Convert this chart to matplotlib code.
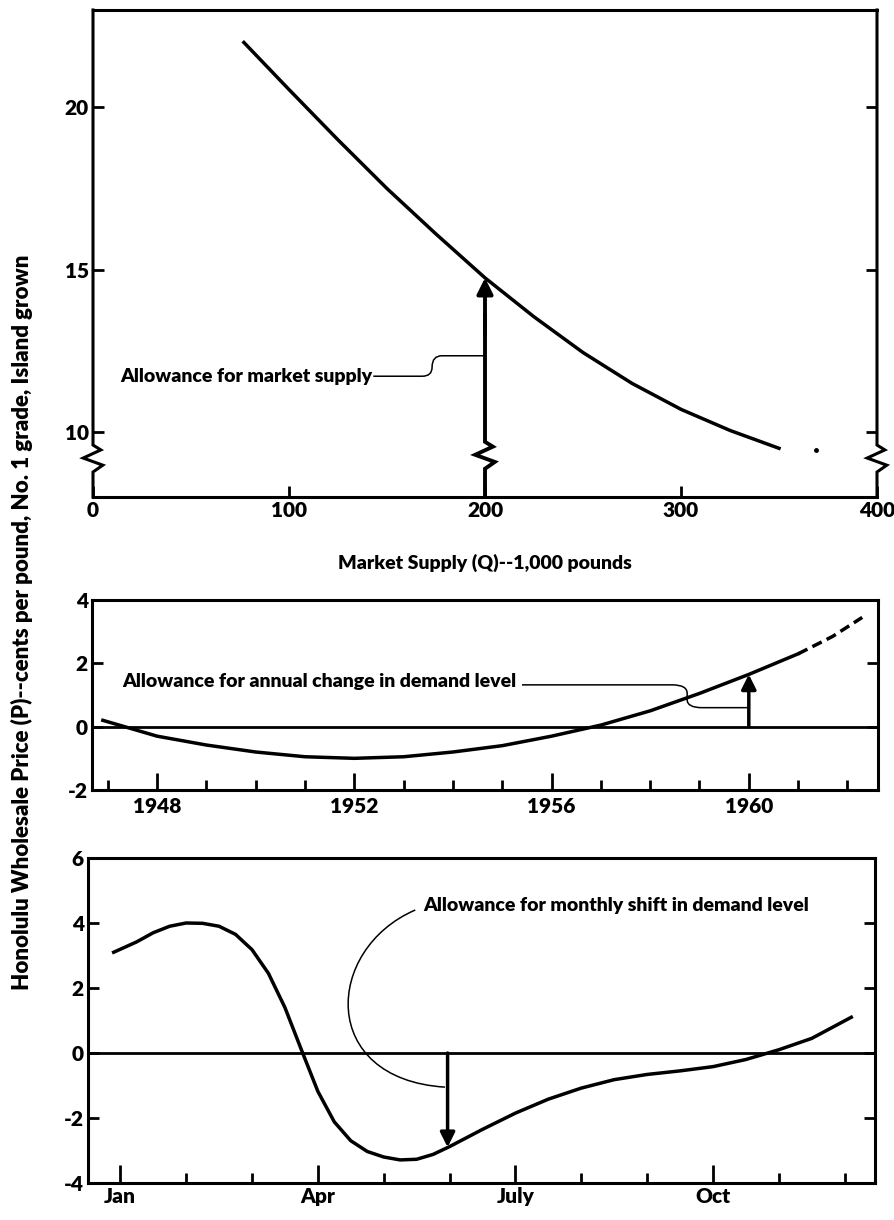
import numpy as np
import matplotlib.pyplot as plt
from matplotlib.path import Path
from matplotlib.patches import PathPatch

plt.rcParams['font.family'] = ['Lato', 'DejaVu Sans']
plt.rcParams['font.weight'] = 'heavy'
plt.rcParams['axes.labelweight'] = 'heavy'
plt.rcParams['axes.unicode_minus'] = False

# --- panel 1: price vs market supply
supply_q = [77, 100, 125, 150, 175, 200, 225, 250, 275, 300, 325, 350]
price_p = [22.0, 20.55, 19.0, 17.5, 16.1, 14.75, 13.55, 12.45, 11.5, 10.7, 10.05, 9.5]
stray_q, stray_p = [369], [9.45]
supply_ticks = [0, 100, 200, 300, 400]
price_ticks = [10, 15, 20]

# --- panel 2: annual change in demand level
years = [1946.9, 1948, 1949, 1950, 1951, 1952, 1953, 1954, 1955, 1956,
         1957, 1958, 1959, 1960, 1961]
annual = [0.2, -0.3, -0.58, -0.8, -0.95, -1.0, -0.95, -0.8, -0.6, -0.3,
          0.05, 0.5, 1.05, 1.65, 2.3]
years_proj = [1961, 1961.7, 1962.3]
annual_proj = [2.3, 2.85, 3.45]
year_labels = [1948, 1952, 1956, 1960]

# --- panel 3: monthly shift in demand level
months = [0.9, 1.25, 1.5, 1.75, 2.0, 2.25, 2.5, 2.75, 3.0, 3.25, 3.5, 3.75,
          4.0, 4.25, 4.5, 4.75, 5.0, 5.25, 5.5, 5.75, 6.0, 6.5, 7.0, 7.5,
          8.0, 8.5, 9.0, 9.5, 10.0, 10.5, 11.0, 11.5, 12.1]
monthly = [3.1, 3.42, 3.7, 3.9, 4.0, 3.99, 3.9, 3.65, 3.18, 2.45, 1.4, 0.1,
           -1.18, -2.12, -2.7, -3.03, -3.2, -3.29, -3.27, -3.12, -2.88, -2.35,
           -1.85, -1.42, -1.08, -0.82, -0.66, -0.55, -0.42, -0.2, 0.1, 0.45, 1.1]
month_labels = {1: 'Jan', 4: 'Apr', 7: 'July', 10: 'Oct'}

LW_CURVE = 2.5
LW_SPINE = 2.2
LW_LEAD = 1.1
FS = 14
FS_TICK = 15

fig = plt.figure(figsize=(8.95, 12.2), dpi=100)
ax1 = fig.add_axes([93 / 895, 1 - 497 / 1220, 784 / 895, 487 / 1220])
ax2 = fig.add_axes([92 / 895, 1 - 790 / 1220, 786 / 895, 190 / 1220])
ax3 = fig.add_axes([88 / 895, 1 - 1183 / 1220, 787 / 895, 325 / 1220])

for ax in (ax1, ax2, ax3):
    for s in ax.spines.values():
        s.set_linewidth(LW_SPINE)
    ax.tick_params(direction='in', width=2, labelsize=FS_TICK, pad=3,
                   right=True, top=False)


def zigzag_line(ax, x, y_low, y_break, y_high, **kw):
    # vertical line with a break symbol
    dx = np.array([0, 4, -5, 5, 0])
    dy = np.array([0, -0.15, -0.4, -0.62, -0.83])
    xs = np.r_[x, x + dx, x]
    ys = np.r_[y_high, y_break + dy, y_low]
    ax.plot(xs, ys, color='black', clip_on=False, solid_joinstyle='miter', **kw)


# ---------------- panel 1
ax1.plot(supply_q, price_p, color='black', lw=LW_CURVE, solid_joinstyle='round')
ax1.plot(stray_q, stray_p, 'o', color='black', ms=2.5)
ax1.set_xlim(0, 400)
ax1.set_ylim(8, 23)
ax1.set_xticks(supply_ticks)
ax1.set_yticks(price_ticks)
ax1.tick_params(axis='both', length=8)
ax1.spines['left'].set_visible(False)
ax1.spines['right'].set_visible(False)
zigzag_line(ax1, 0, 8, 9.6, 23, lw=LW_SPINE)
zigzag_line(ax1, 400, 8, 9.6, 23, lw=LW_SPINE)
zigzag_line(ax1, 200, 8, 9.7, 13.6, lw=2.8)
ax1.annotate('', xy=(200, 14.75), xytext=(200, 13.0),
             arrowprops=dict(arrowstyle='-|>', lw=2.8, color='black',
                             mutation_scale=24, shrinkA=0, shrinkB=0))
ax1.text(14, 11.72, 'Allowance for market supply', fontsize=FS,
         va='center', ha='left')
lead1 = Path([(143, 11.72), (168, 11.72), (173, 11.72), (173, 12.0),
              (173, 12.35), (178, 12.35), (200, 12.35)],
             [Path.MOVETO, Path.LINETO, Path.CURVE3, Path.CURVE3,
              Path.CURVE3, Path.CURVE3, Path.LINETO])
ax1.add_patch(PathPatch(lead1, fill=False, lw=LW_LEAD, color='black'))
ax1.set_xlabel('Market Supply (Q)--1,000 pounds', fontsize=FS, labelpad=24)

# ---------------- panel 2
ax2.axhline(0, color='black', lw=2)
ax2.plot(years, annual, color='black', lw=LW_CURVE, solid_joinstyle='round')
ax2.plot(years_proj, annual_proj, color='black', lw=LW_CURVE, ls=(0, (3, 1.6)))
ax2.set_xlim(1946.68, 1962.62)
ax2.set_ylim(-2, 4)
ax2.set_xticks(year_labels)
ax2.set_xticks(range(1947, 1963), minor=True)
ax2.set_yticks([-2, 0, 2, 4])
ax2.tick_params(axis='x', which='major', length=12, pad=5)
ax2.tick_params(axis='x', which='minor', length=7, width=2, direction='in')
ax2.tick_params(axis='y', length=8)
ax2.annotate('', xy=(1960, 1.65), xytext=(1960, 0),
             arrowprops=dict(arrowstyle='-|>', lw=2.5, color='black',
                             mutation_scale=22, shrinkA=0, shrinkB=0))
ax2.text(1947.3, 1.42, 'Allowance for annual change in demand level',
         fontsize=FS, va='center', ha='left')
lead2 = Path([(1955.4, 1.32), (1958.45, 1.32), (1958.75, 1.32), (1958.75, 1.05),
              (1958.75, 0.85), (1958.75, 0.6), (1959.05, 0.6), (1960, 0.6)],
             [Path.MOVETO, Path.LINETO, Path.CURVE3, Path.CURVE3, Path.LINETO,
              Path.CURVE3, Path.CURVE3, Path.LINETO])
ax2.add_patch(PathPatch(lead2, fill=False, lw=LW_LEAD, color='black'))

# ---------------- panel 3
ax3.axhline(0, color='black', lw=2)
ax3.plot(months, monthly, color='black', lw=LW_CURVE, solid_joinstyle='round')
ax3.set_xlim(0.51, 12.46)
ax3.set_ylim(-4, 6)
ax3.set_xticks(list(month_labels))
ax3.set_xticklabels(list(month_labels.values()))
ax3.set_xticks(range(1, 13), minor=True)
ax3.set_yticks([-4, -2, 0, 2, 4, 6])
ax3.tick_params(axis='x', which='major', length=13, pad=3)
ax3.tick_params(axis='x', which='minor', length=7, width=2, direction='in')
ax3.tick_params(axis='y', length=8)
ax3.annotate('', xy=(5.97, -2.9), xytext=(5.97, 0),
             arrowprops=dict(arrowstyle='-|>', lw=2.5, color='black',
                             mutation_scale=22, shrinkA=0, shrinkB=0))
ax3.text(5.6, 4.55, 'Allowance for monthly shift in demand level',
         fontsize=FS, va='center', ha='left')
lead3 = Path([(5.93, -1.05), (4.0, -0.8), (4.1, 3.2), (5.48, 4.4)],
             [Path.MOVETO, Path.CURVE4, Path.CURVE4, Path.CURVE4])
ax3.add_patch(PathPatch(lead3, fill=False, lw=LW_LEAD, color='black'))

fig.text(0.025, 0.49,
         'Honolulu Wholesale Price (P)--cents per pound, No. 1 grade, Island grown',
         rotation=90, fontsize=16, fontweight='heavy', va='center', ha='center')

fig.savefig('out.png', dpi=100)
